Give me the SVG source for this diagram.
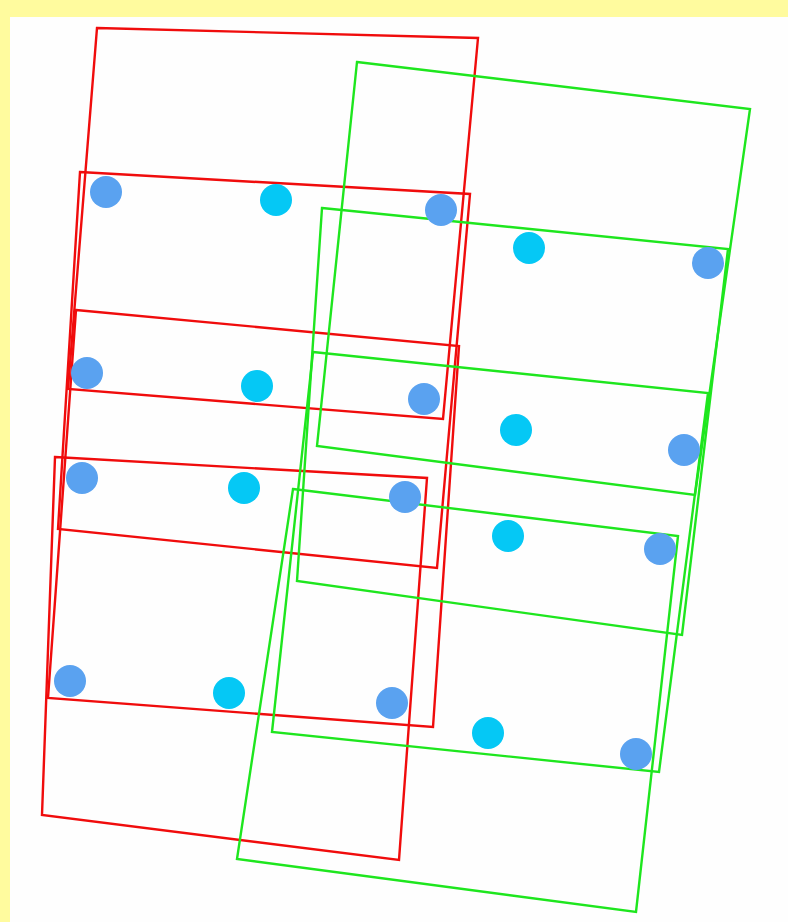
<svg xmlns="http://www.w3.org/2000/svg" width="788" height="922" viewBox="0 0 788 922">
<style>
.r{fill:none;stroke:#f00c0c;stroke-width:2.4;stroke-linejoin:miter}
.g{fill:none;stroke:#1ee61e;stroke-width:2.4;stroke-linejoin:miter}
.mb{fill:#5aa2f0}
.cy{fill:#05c8f5}
</style>
<rect x="0" y="0" width="788" height="922" fill="#fffb9e"/>
<rect x="10" y="17" width="778" height="905" fill="#fefefe"/>
<g id="red-quads">
<polygon id="R_A" class="r" points="97,28 478,38 443,419 68,389"/>
<polygon id="R_B" class="r" points="80,172 470,194 437,568 58,529"/>
<polygon id="R_C" class="r" points="76,310 459,346 433,727 48,698"/>
<polygon id="R_D" class="r" points="55,457 427,478 399,860 42,815"/>
</g>
<g id="green-quads">
<polygon id="G_A" class="g" points="357,62 750,109 695,495 317,446"/>
<polygon id="G_B" class="g" points="322,208 728,249 682,635 297,581"/>
<polygon id="G_C" class="g" points="313,352 708,393 659,772 272,732"/>
<polygon id="G_D" class="g" points="293,489 678,536 636,912 237,859"/>
</g>
<g id="points">
<circle class="mb" cx="106" cy="192" r="16"/>
<circle class="cy" cx="276" cy="200" r="16"/>
<circle class="mb" cx="441" cy="210" r="16"/>
<circle class="cy" cx="529" cy="248" r="16"/>
<circle class="mb" cx="708" cy="263" r="16"/>
<circle class="mb" cx="87" cy="373" r="16"/>
<circle class="cy" cx="257" cy="386" r="16"/>
<circle class="mb" cx="424" cy="399" r="16"/>
<circle class="cy" cx="516" cy="430" r="16"/>
<circle class="mb" cx="684" cy="450" r="16"/>
<circle class="mb" cx="82" cy="478" r="16"/>
<circle class="cy" cx="244" cy="488" r="16"/>
<circle class="mb" cx="405" cy="497" r="16"/>
<circle class="cy" cx="508" cy="536" r="16"/>
<circle class="mb" cx="660" cy="549" r="16"/>
<circle class="mb" cx="70" cy="681" r="16"/>
<circle class="cy" cx="229" cy="693" r="16"/>
<circle class="mb" cx="392" cy="703" r="16"/>
<circle class="cy" cx="488" cy="733" r="16"/>
<circle class="mb" cx="636" cy="754" r="16"/>
</g>
</svg>
